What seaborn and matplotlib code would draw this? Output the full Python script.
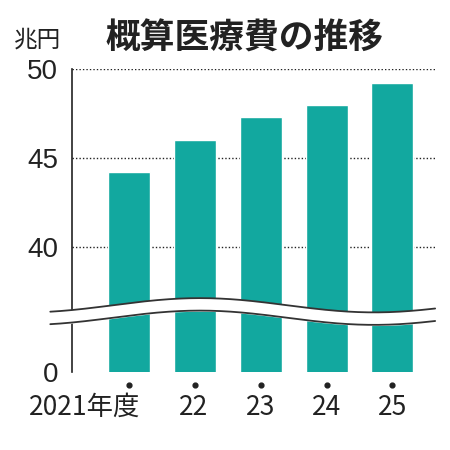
import numpy as np
import pandas as pd
import matplotlib.pyplot as plt
import seaborn as sns

# data (trillion yen)
years = ['2021年度', '22', '23', '24', '25']
costs = [44.2, 46.0, 47.3, 48.0, 49.2]
yticks = [33, 40, 45, 50]
ytick_labels = ['0', '40', '45', '50']

sns.set_style('white')
plt.rcParams['font.family'] = ['Noto Sans CJK JP', 'DejaVu Sans']

teal = '#12a89f'
df = pd.DataFrame({'year': years, 'cost': costs})

fig = plt.figure(figsize=(4.5, 4.5), dpi=100)
ax = fig.add_axes([0.16, 0.173, 0.807, 0.674])
sns.barplot(data=df, x='year', y='cost', color=teal, saturation=1, width=0.64, ax=ax)

ax.set_xlim(-0.87, 4.65)
ax.set_ylim(33, 50)
for v in [40, 45, 50]:
    ax.axhline(v, color='#222222', lw=1, ls=(0, (1, 1.5)), zorder=0)

ax.set_yticks(yticks)
ax.set_yticklabels(ytick_labels, fontsize=20, fontfamily='Liberation Sans')
ax.tick_params(axis='y', direction='out', length=8, width=1.2, pad=2, colors='#222222')
ax.set_xticks([])
ax.set_xlabel('')
ax.set_ylabel('')
for s in ['top', 'right', 'bottom']:
    ax.spines[s].set_visible(False)
ax.spines['left'].set_linewidth(1.2)
ax.spines['left'].set_color('#222222')

# axis break wave
t = np.linspace(-1.2, 4.65, 300)
wave = 36.4 + 0.4 * np.sin((t + 0.25) / 5.3 * 2 * np.pi)
ax.fill_between(t, wave - 0.35, wave + 0.35, color='white', zorder=5, clip_on=False)
ax.plot(t, wave - 0.35, color='#333333', lw=1.3, zorder=6, clip_on=False)
ax.plot(t, wave + 0.35, color='#333333', lw=1.3, zorder=6, clip_on=False)

# dots and year labels
ax.scatter(range(len(years)), [32.3] * len(years), s=12, color='#222222', clip_on=False)
label_x = [-0.67, 0.98, 2.0, 3.0, 4.0]
for x, lab in zip(label_x, years):
    ax.text(x, 31.8, lab, ha='center', va='top', fontsize=19, color='#222222')

fig.text(0.03, 0.91, '兆円', fontsize=17, color='#222222', va='center')
fig.text(0.235, 0.915, '概算医療費の推移', fontsize=25, fontweight='bold', color='#222222', va='center')

fig.savefig('out.png', dpi=100)
